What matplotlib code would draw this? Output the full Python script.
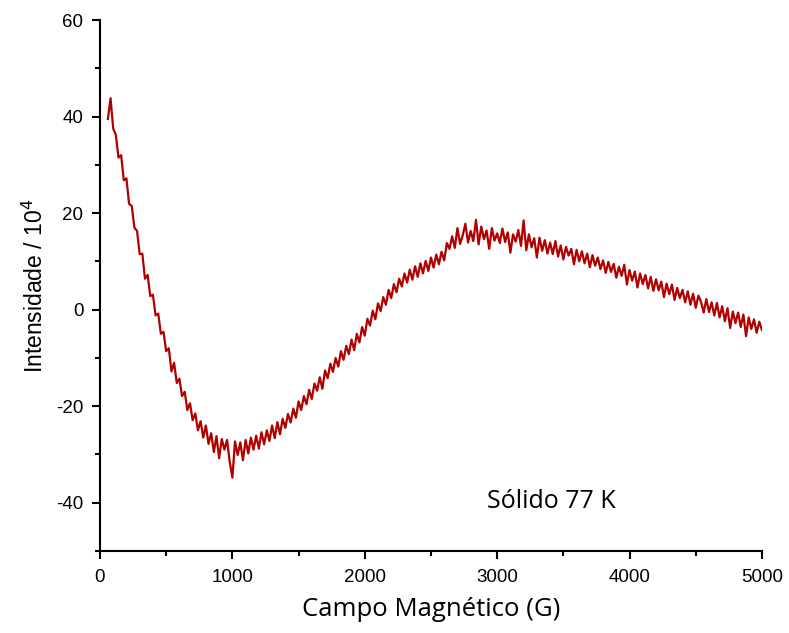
import numpy as np
import matplotlib
matplotlib.use('Agg')
import matplotlib.pyplot as plt
from matplotlib.ticker import MultipleLocator

plt.rcParams['axes.unicode_minus'] = False

# magnetic field grid (G) and intensity (/10^4)
field = np.arange(60, 5001, 20)
intensity = [
    39.5, 43.8, 37.5, 36.2, 31.5, 32.0, 26.8, 27.2, 21.9, 21.5,
    17.0, 16.3, 11.5, 11.6, 6.4, 7.2, 2.8, 3.1, -1.2, -0.8,
    -5.0, -4.6, -8.6, -8.0, -12.8, -11.0, -15.2, -14.3, -17.9,
    -17.0, -20.8, -19.4, -22.9, -21.5, -25.0, -23.1, -26.5, -24.0, -27.8,
    -25.6, -29.5, -26.2, -30.8, -26.8, -29.0, -27.0, -31.5,
    -34.8, -27.3, -30.1, -27.5, -31.2,
    -27.0, -29.8, -26.5, -29.0, -26.1, -28.8,
    -25.4, -27.9, -25.0, -27.2, -24.0, -26.6,
    -23.3, -25.8, -22.6, -24.5, -21.6, -23.4, -20.5,
    -22.4, -19.0, -20.8, -17.9, -19.6, -16.6,
    -18.5, -15.3, -16.8, -14.0, -16.4, -12.6,
    -14.2, -11.2, -12.9, -10.0, -11.8, -8.6,
    -10.4, -7.5, -9.2, -6.2, -8.4, -5.0, -6.8,
    -3.6, -5.4, -1.9, -3.3,
    -0.2, -2.0, 1.3, -0.3, 2.6, 1.0, 4.1,
    2.4, 5.3, 3.6, 6.4, 4.8, 7.5, 5.6, 8.3,
    6.2, 9.0, 6.8, 9.6, 7.5, 10.1, 8.0,
    10.8, 8.7, 11.4, 9.4, 12.0, 10.2, 13.8, 12.6,
    15.2, 12.8, 16.9, 13.6, 15.4, 17.8, 13.9, 16.3, 14.2, 18.6,
    13.5, 17.2, 14.6, 16.4, 12.6, 16.9, 14.3, 15.8, 13.8,
    16.8, 14.0, 16.0, 11.8, 15.6, 14.1, 16.5, 13.2, 18.5,
    12.3, 15.6, 12.9, 14.8, 10.8, 14.9, 12.2, 14.4, 11.6, 13.9,
    11.5, 14.2, 11.0, 13.3, 10.4, 13.0, 11.2, 12.6, 9.4, 12.4,
    10.0, 12.1, 9.6, 11.6, 8.8, 11.3, 9.1,
    10.8, 8.4, 10.2, 7.6, 9.9, 7.8,
    9.5, 6.6, 8.9, 7.0, 9.3, 5.2, 8.2, 6.0, 7.9, 4.6, 7.5, 5.3, 7.2,
    4.4, 6.8, 3.9, 6.3, 4.0, 5.8, 2.6, 5.4, 3.2, 5.2, 2.0, 4.5, 2.4,
    4.1, 1.5, 3.8, 1.0, 3.3, 0.4, 2.9, 1.6, -0.6, 2.2, -0.5, 1.5,
    -1.2, 1.4, -1.6, 0.7, -2.4, 0.3, -3.8, -0.4, -2.8, -0.6,
    -3.6, -1.0, -5.5, -1.6, -4.0, -2.0, -4.8, -2.5, -4.2,
]

fig = plt.figure(figsize=(7.89, 6.33), dpi=100)
ax = fig.add_axes([0.1267, 0.1295, 0.839, 0.8389])

ax.plot(field, intensity, color='#b00000', lw=1.6)

ax.set_xlim(0, 5000)
ax.set_ylim(-50, 60)
ax.xaxis.set_major_locator(MultipleLocator(1000))
ax.xaxis.set_minor_locator(MultipleLocator(500))
ax.yaxis.set_major_locator(MultipleLocator(20))
ax.yaxis.set_minor_locator(MultipleLocator(10))
ax.set_yticks([-40, -20, 0, 20, 40, 60])

for s in ['top', 'right']:
    ax.spines[s].set_visible(False)
for s in ['left', 'bottom']:
    ax.spines[s].set_linewidth(1.5)

ax.tick_params(which='major', direction='out', length=6, width=1.5,
               labelsize=13.5)
ax.tick_params(axis='x', which='major', pad=7)
ax.tick_params(axis='y', which='major', pad=6)
ax.tick_params(which='minor', direction='out', length=3.5, width=1.5)
for lab in ax.get_xticklabels() + ax.get_yticklabels():
    lab.set_fontfamily('Liberation Sans')

ax.set_xlabel('Campo Magnético (G)', fontsize=18.5, family='Open Sans', labelpad=8)
ax.set_ylabel('Intensidade / 10$^4$', fontsize=16.5, family='Liberation Sans',
              labelpad=6)

ax.text(2925, -41.1, 'Sólido 77 K', fontsize=18, family='Open Sans',
        va='baseline', ha='left')

plt.savefig('out.png', dpi=100)
